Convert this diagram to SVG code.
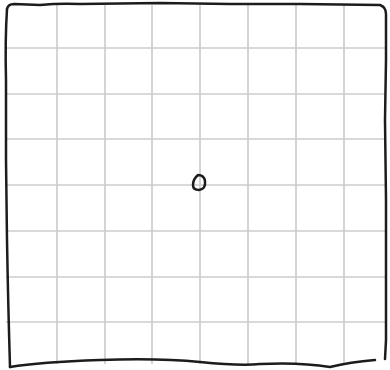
<svg xmlns="http://www.w3.org/2000/svg" width="390" height="370" viewBox="0 0 390 370">
<style>
.grid{stroke:#cdcdcd;stroke-width:1.7;fill:none}
.ink{stroke:#1c1c1c;stroke-width:2.5;fill:none;stroke-linecap:round;stroke-linejoin:round}
</style>
<rect width="390" height="370" fill="#ffffff"/>
<g id="grid" class="grid">
<line x1="57" y1="5" x2="57" y2="364"/>
<line x1="105" y1="5" x2="105" y2="364"/>
<line x1="152" y1="5" x2="152" y2="364"/>
<line x1="200" y1="5" x2="200" y2="364"/>
<line x1="248" y1="5" x2="248" y2="364"/>
<line x1="296" y1="5" x2="296" y2="364"/>
<line x1="344" y1="5" x2="344" y2="364"/>
<line x1="6" y1="48" x2="386" y2="48"/>
<line x1="6" y1="94" x2="386" y2="94"/>
<line x1="6" y1="139" x2="386" y2="139"/>
<line x1="6" y1="185" x2="386" y2="185"/>
<line x1="6" y1="231" x2="386" y2="231"/>
<line x1="6" y1="277" x2="386" y2="277"/>
<line x1="6" y1="322" x2="386" y2="322"/>
</g>
<g id="frame" class="ink">
<path d="M7 9 Q8 4 14 4 L40 5 Q60 3 80 4 L160 3 L230 4 L300 4 L380 5 Q386 7 386 14 L386 60 L385 120 L386 200 L386 280 L386 340 L385 359"/>
<path d="M7 9 Q5 40 6 80 L6 160 L7 240 Q8 300 10 367"/>
<path d="M10 367 Q40 362 100 360 Q160 358 200 362 Q240 366 260 364 Q300 362 330 367 Q350 362 375 360"/>
</g>
<g id="point" class="ink">
<path d="M198 175 Q204 175 205 181 Q206 189 199 190 Q193 190 193 185 Q193 179 198 175 Z"/>
</g>
</svg>
